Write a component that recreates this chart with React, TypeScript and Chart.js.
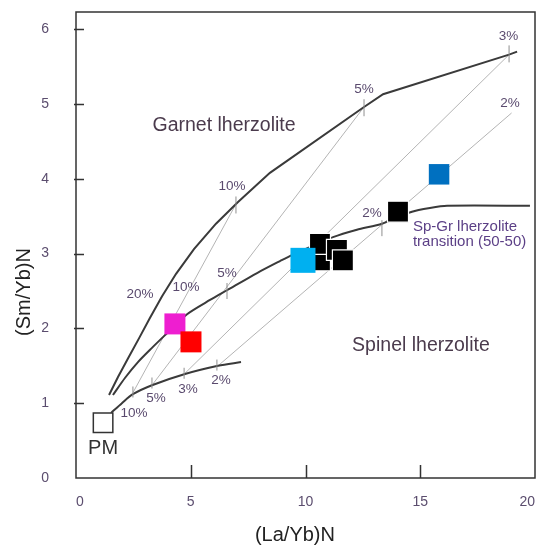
import { useEffect, useRef } from "react";
import { Chart, registerables } from "chart.js";

Chart.register(...registerables);

type Pt = [number, number];

// Axis ticks
const xTickValues = [0, 5, 10, 15, 20];
const yTickValues = [0, 1, 2, 3, 4, 5, 6];

// Non-modal batch melting curves from primitive mantle: [(La/Yb)N, (Sm/Yb)N]
const garnetCurve: Pt[] = [
  [1.44, 1.11], [1.83, 1.35], [2.27, 1.6], [2.75, 1.87], [3.22, 2.14],
  [3.75, 2.43], [4.36, 2.73], [5.14, 3.06], [6.1, 3.4], [7.06, 3.69],
  [8.45, 4.08], [12.55, 4.96], [13.38, 5.13], [18.87, 5.66], [19.22, 5.7],
];
const transitionCurve: Pt[] = [
  [1.61, 1.11], [2.14, 1.34], [2.7, 1.55], [3.31, 1.74], [3.88, 1.91],
  [4.84, 2.19], [5.84, 2.38], [6.58, 2.51], [7.89, 2.74], [8.89, 2.9],
  [9.41, 2.98], [11.2, 3.22], [12.24, 3.32], [13.33, 3.4], [14.64, 3.56],
  [15.42, 3.61], [16.17, 3.64], [19.78, 3.64],
];
const spinelCurve: Pt[] = [
  [1.53, 0.87], [2.0, 1.0], [2.48, 1.12], [3.31, 1.24], [4.75, 1.39],
  [6.19, 1.5], [7.19, 1.55],
];

// Lines joining equal degrees of melting across the three sources
const tieLine10: Pt[] = [[2.48, 1.14], [7.02, 3.69]];
const tieLine5: Pt[] = [[3.31, 1.24], [12.55, 4.96]];
const tieLine3: Pt[] = [[4.75, 1.4], [18.87, 5.66]];
const tieLine2: Pt[] = [[6.19, 1.5], [18.98, 4.88]];

// Melt-degree marks on each curve
const spinelMeltTicks: Pt[] = [[2.48, 1.15], [3.31, 1.27], [4.71, 1.4], [6.14, 1.51]];
const transitionMeltTicks: Pt[] = [[6.58, 2.5], [13.33, 3.34]];
const garnetMeltTicks: Pt[] = [[6.97, 3.65], [12.55, 4.95], [18.87, 5.67]];

// Samples
const primitiveMantle: Pt[] = [[1.18, 0.74]];
const magentaSamples: Pt[] = [[4.31, 2.06]];
const redSamples: Pt[] = [[5.01, 1.82]];
const blackSamples: Pt[] = [
  [10.63, 2.91], [10.63, 3.13], [11.37, 3.05], [11.63, 2.91], [14.03, 3.56],
];
const cyanSamples: Pt[] = [[9.89, 2.91]];
const blueSamples: Pt[] = [[15.82, 4.06]];

// Melt-degree annotations (anchored in data units)
const meltLabels = [
  { text: "10%", x: 2.53, y: 0.87 },
  { text: "5%", x: 3.49, y: 1.07 },
  { text: "3%", x: 4.88, y: 1.19 },
  { text: "2%", x: 6.32, y: 1.31 },
  { text: "10%", x: 4.79, y: 2.55 },
  { text: "5%", x: 6.58, y: 2.74 },
  { text: "2%", x: 12.9, y: 3.54 },
  { text: "20%", x: 2.79, y: 2.45 },
  { text: "10%", x: 6.8, y: 3.9 },
  { text: "5%", x: 12.55, y: 5.2 },
  { text: "3%", x: 18.85, y: 5.9 },
  { text: "2%", x: 18.91, y: 5.01 },
];

const fieldLabels = [
  { text: "Garnet lherzolite", x: 6.45, y: 4.71 },
  { text: "Spinel lherzolite", x: 15.03, y: 1.77 },
];
const transitionLabelLines = ["Sp-Gr lherzolite", "transition (50-50)"];
const transitionLabelAnchor: Pt = [14.68, 3.36];
const pmLabel = { text: "PM", x: 1.18, y: 0.39 };

const xTitle = "(La/Yb)N";
const yTitle = "(Sm/Yb)N";

const FONT = "'Liberation Sans', Arial, sans-serif";
const TICK_COLOR = "#5b4d6e";

const toXY = (pts: Pt[]) => pts.map(([x, y]) => ({ x, y }));

const overlay = {
  id: "overlay",
  afterDatasetsDraw(chart: any) {
    const { ctx, chartArea: a } = chart;
    const xs = chart.scales.x;
    const ys = chart.scales.y;
    ctx.save();

    // plot frame
    ctx.strokeStyle = "#333";
    ctx.lineWidth = 1.5;
    ctx.strokeRect(a.left, a.top, a.right - a.left, a.bottom - a.top);

    // inward tick marks
    ctx.beginPath();
    for (const v of xTickValues) {
      if (v === xs.min || v === xs.max) continue;
      const px = Math.round(xs.getPixelForValue(v)) + 0.5;
      ctx.moveTo(px, a.bottom);
      ctx.lineTo(px, a.bottom - 13);
    }
    for (const v of yTickValues) {
      if (v === ys.min) continue;
      const py = Math.round(ys.getPixelForValue(v)) + 0.5;
      ctx.moveTo(a.left - 2, py);
      ctx.lineTo(a.left + 8, py);
    }
    ctx.stroke();

    ctx.textBaseline = "middle";

    // tick labels
    ctx.fillStyle = TICK_COLOR;
    ctx.font = `14px ${FONT}`;
    xTickValues.forEach((v, i) => {
      ctx.textAlign = i === 0 ? "left" : i === xTickValues.length - 1 ? "right" : "center";
      ctx.fillText(String(v), xs.getPixelForValue(v), a.bottom + 24);
    });
    ctx.textAlign = "right";
    for (const v of yTickValues) {
      ctx.fillText(String(v), a.left - 27, ys.getPixelForValue(v));
    }

    // melt-degree labels
    ctx.textAlign = "center";
    ctx.fillStyle = "#5a4a6e";
    ctx.font = `13.5px ${FONT}`;
    for (const l of meltLabels) {
      ctx.fillText(l.text, xs.getPixelForValue(l.x), ys.getPixelForValue(l.y));
    }

    // field labels
    ctx.fillStyle = "#4b3b4d";
    ctx.font = `19.5px ${FONT}`;
    for (const l of fieldLabels) {
      ctx.fillText(l.text, xs.getPixelForValue(l.x), ys.getPixelForValue(l.y));
    }

    // transition label
    ctx.textAlign = "left";
    ctx.fillStyle = "#5b3f86";
    ctx.font = `15px ${FONT}`;
    const tx = xs.getPixelForValue(transitionLabelAnchor[0]);
    const ty = ys.getPixelForValue(transitionLabelAnchor[1]);
    transitionLabelLines.forEach((line, i) => ctx.fillText(line, tx, ty + i * 15));

    // PM label
    ctx.textAlign = "center";
    ctx.fillStyle = "#333";
    ctx.font = `20px ${FONT}`;
    ctx.fillText(pmLabel.text, xs.getPixelForValue(pmLabel.x), ys.getPixelForValue(pmLabel.y));

    // axis titles
    ctx.fillStyle = "#222";
    ctx.font = `20px ${FONT}`;
    ctx.fillText(xTitle, a.left + (a.right - a.left) * 0.477, a.bottom + 57);
    ctx.translate(a.left - 52, a.top + 280);
    ctx.rotate(-Math.PI / 2);
    ctx.fillText(yTitle, 0, 0);

    ctx.restore();
  },
};

export default function App() {
  const canvasRef = useRef<HTMLCanvasElement | null>(null);

  useEffect(() => {
    if (!canvasRef.current) return;

    const curve = (data: Pt[], tension: number) => ({
      data: toXY(data),
      showLine: true,
      borderColor: "#3a3a3a",
      borderWidth: 2,
      pointRadius: 0,
      tension,
      order: 10,
    });
    const tie = (data: Pt[]) => ({
      data: toXY(data),
      showLine: true,
      borderColor: "#b4b4b4",
      borderWidth: 1,
      pointRadius: 0,
      order: 11,
    });
    const meltTick = (data: Pt[], radius: number) => ({
      data: toXY(data),
      showLine: false,
      pointStyle: "line",
      rotation: 90,
      pointRadius: radius,
      pointBorderColor: "#8f8f8f",
      pointBorderWidth: 1,
      order: 9,
    });
    const samples = (label: string, data: Pt[], fill: string, size: number, order: number, border = fill, bw = 0) => ({
      label,
      data: toXY(data),
      showLine: false,
      pointStyle: "rect",
      pointRadius: size / Math.SQRT2,
      pointBackgroundColor: fill,
      pointBorderColor: border,
      pointBorderWidth: bw,
      order,
    });

    const fixedAxis = (size: number, horizontal: boolean) => (s: any) => {
      if (horizontal) s.height = size;
      else s.width = size;
      s.paddingLeft = 0;
      s.paddingRight = 0;
      s.paddingTop = 0;
      s.paddingBottom = 0;
    };

    const chart = new Chart(canvasRef.current, {
      type: "scatter",
      data: {
        datasets: [
          tie(tieLine10),
          tie(tieLine5),
          tie(tieLine3),
          tie(tieLine2),
          curve(garnetCurve, 0),
          curve(transitionCurve, 0.25),
          curve(spinelCurve, 0.3),
          meltTick(spinelMeltTicks, 5.5),
          meltTick(transitionMeltTicks, 8),
          meltTick(garnetMeltTicks, 8.5),
          samples("PM", primitiveMantle, "#ffffff", 19.5, 5, "#333333", 1.5),
          samples("magenta", magentaSamples, "#ee1ed0", 21, 4),
          samples("red", redSamples, "#ff0000", 21, 3),
          samples("black", blackSamples, "#000000", 21, 2, "#ffffff", 1.2),
          samples("cyan", cyanSamples, "#00b0f0", 25, 1),
          samples("blue", blueSamples, "#0070c0", 20.5, 1),
        ] as any,
      },
      options: {
        animation: false,
        responsive: false,
        devicePixelRatio: 1,
        events: [],
        layout: { autoPadding: false, padding: { left: 0, top: 12, right: 6, bottom: 0 } },
        plugins: { legend: { display: false }, tooltip: { enabled: false } },
        scales: {
          x: {
            type: "linear",
            min: 0,
            max: 20,
            grid: { display: false, drawTicks: false },
            border: { display: false },
            afterBuildTicks: (s: any) => {
              s.ticks = xTickValues.map((value) => ({ value }));
            },
            afterFit: fixedAxis(67, true),
            ticks: { display: false },
          },
          y: {
            type: "linear",
            min: 0,
            max: 6.23,
            grid: { display: false, drawTicks: false },
            border: { display: false },
            afterBuildTicks: (s: any) => {
              s.ticks = yTickValues.map((value) => ({ value }));
            },
            afterFit: fixedAxis(76, false),
            ticks: { display: false },
          },
        },
      } as any,
      plugins: [overlay],
    });

    return () => chart.destroy();
  }, []);

  return (
    <div style={{ position: "absolute", left: 0, top: 0, width: 541, height: 545, background: "#fff" }}>
      <canvas ref={canvasRef} width={541} height={545} style={{ width: 541, height: 545, display: "block" }} />
    </div>
  );
}
